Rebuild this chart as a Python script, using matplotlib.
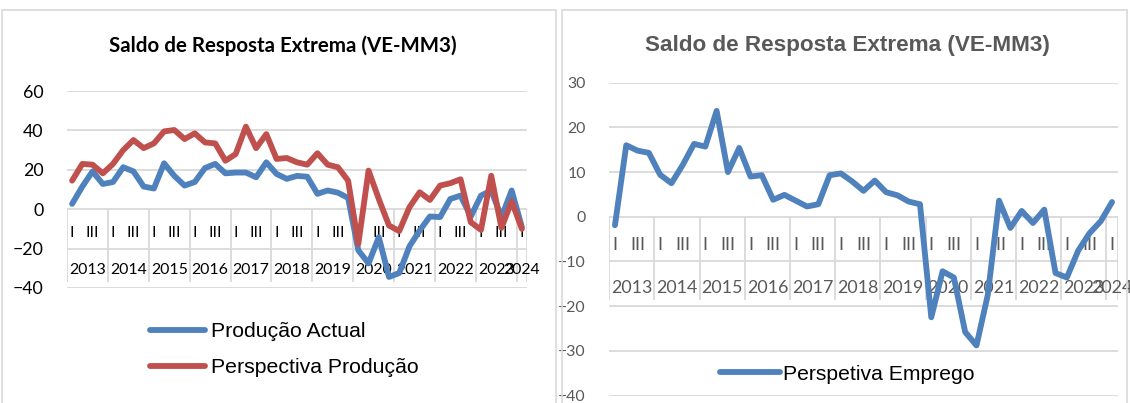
import matplotlib
matplotlib.use("Agg")
import matplotlib.pyplot as plt
from matplotlib.patches import Rectangle

# ---------------- data ----------------
years = [str(y) for y in range(2013, 2025)]
quarters = ["I", "II", "III", "IV"]
shown_quarters = ["I", "III"]          # Excel shows only every other label
n_points = 45                          # 2013 Q1 .. 2024 Q1

producao_actual = [2.7, 11.5, 19.2, 12.8, 13.8, 21.3, 19.2, 11.5, 10.5, 23.3,
                   16.9, 12.0, 13.8, 20.9, 23.0, 18.2, 18.6, 18.6, 16.2, 23.8,
                   17.9, 15.4, 16.9, 16.5, 7.8, 9.5, 8.4, 5.7, -20.9, -27.5,
                   -14.2, -34.4, -32.4, -18.9, -10.8, -3.7, -4.0, 5.2, 6.9, -3.7,
                   6.9, 9.5, -4.0, 9.5, -9.1]
perspectiva_producao = [14.5, 23.0, 22.6, 18.2, 23.0, 30.0, 35.1, 31.0, 33.4, 39.5,
                        40.2, 35.6, 38.5, 33.9, 33.4, 24.6, 28.0, 41.9, 31.0, 38.1,
                        25.5, 26.0, 23.8, 22.6, 28.4, 22.6, 21.3, 14.5, -17.6, 19.6,
                        5.2, -8.3, -11.1, 1.0, 8.6, 4.7, 12.0, 13.2, 15.2, -6.6,
                        -10.5, 17.0, -9.5, 4.0, -10.0]
perspetiva_emprego = [-1.9, 16.0, 14.8, 14.3, 9.4, 7.5, 11.6, 16.3, 15.7, 23.7,
                      10.0, 15.4, 9.0, 9.3, 3.8, 4.9, 3.6, 2.3, 2.8, 9.3,
                      9.7, 7.9, 5.8, 8.1, 5.5, 4.8, 3.4, 2.8, -22.5, -12.2,
                      -13.6, -25.8, -28.8, -17.5, 3.6, -2.5, 1.3, -1.4, 1.6, -12.6,
                      -13.6, -7.6, -3.7, -1.0, 3.3]

title = "Saldo de Resposta Extrema (VE-MM3)"
label_left = ["Produção Actual", "Perspectiva Produção"]
label_right = "Perspetiva Emprego"

# ---------------- style ----------------
BLUE = "#4F81BD"
RED = "#C0504D"
GRID = "#D9D9D9"
GRAYTXT = "#595959"
W, H = 1130, 403

fig = plt.figure(figsize=(W / 100, H / 100), dpi=100)
fig.patch.set_facecolor("white")


def fx(px):
    return px / W


def fy(py):
    return 1 - py / H


# panel borders
for (x0, y0, x1, y1) in [(2, 10, 556, 410), (562, 10, 1127, 410)]:
    fig.patches.append(Rectangle((fx(x0), fy(y1)), fx(x1) - fx(x0), fy(y0) - fy(y1),
                                 transform=fig.transFigure, fill=False,
                                 edgecolor=GRID, lw=1.2))

x = list(range(n_points))
q_labels = [quarters[i % 4] for i in x]
y_labels = [years[i // 4] for i in x]


def setup_axis(ax, ylim, step, txtcolor, ytick_size, q_y, yr_y, sep_bottom, lab_size):
    ax.set_xlim(-0.5, n_points - 0.5)
    ax.set_ylim(*ylim)
    ax.set_yticks(range(ylim[0], ylim[1] + 1, step))
    ax.grid(axis="y", color=GRID, lw=1.3, zorder=0)
    ax.set_axisbelow(True)
    for s in ax.spines.values():
        s.set_visible(False)
    ax.set_xticks([])
    ax.tick_params(axis="y", length=0, pad=17, labelsize=ytick_size, labelcolor=txtcolor)
    for lab in ax.get_yticklabels():
        lab.set_family("Lato")
    # year group separators in the label area
    bounds = [i - 0.5 for i in x if i % 4 == 0] + [n_points - 0.5]
    ax.vlines(bounds, sep_bottom, 0, color=GRID, lw=1.3, zorder=0)
    # quarter labels
    for i in x:
        if q_labels[i] in shown_quarters:
            ax.text(i, q_y, q_labels[i], ha="center", va="center", color=txtcolor,
                    fontsize=lab_size, family="Lato")
    # year labels centered in their group
    for yr in years:
        idx = [i for i in x if y_labels[i] == yr]
        ax.text((idx[0] + idx[-1]) / 2, yr_y, yr, ha="center", va="center",
                color=txtcolor, fontsize=lab_size, family="Lato")


LW = 4.2
# ---------- left chart ----------
axL = fig.add_axes([fx(67), fy(288), fx(527) - fx(67), fy(91) - fy(288)])
setup_axis(axL, (-40, 60), 20, "black", 12.8, -12.2, -30.9, -37, 11.4)
axL.plot(x, producao_actual, color=BLUE, lw=LW, solid_joinstyle="round",
         solid_capstyle="round", label=label_left[0], zorder=3)
axL.plot(x, perspectiva_producao, color=RED, lw=LW, solid_joinstyle="round",
         solid_capstyle="round", label=label_left[1], zorder=4)
legL = axL.legend(loc="upper left", bbox_to_anchor=(fx(150), fy(322)),
                  bbox_transform=fig.transFigure, frameon=False, borderpad=0,
                  borderaxespad=0, handlelength=2.6, handletextpad=0.25,
                  labelspacing=0.8, prop={"family": "Liberation Sans", "size": 15.3})
for h in legL.get_lines():
    h.set_linewidth(LW)

# ---------- right chart ----------
axR = fig.add_axes([fx(609.3), fy(395.5), fx(1117.7) - fx(609.3), fy(82.7) - fy(395.5)])
setup_axis(axR, (-40, 30), 10, GRAYTXT, 11.4, -6.3, -15.9, -18.6, 12.9)
axR.plot(x, perspetiva_emprego, color=BLUE, lw=LW, solid_joinstyle="round",
         solid_capstyle="round", label=label_right, zorder=3)
legR = axR.legend(loc="center left", bbox_to_anchor=(fx(720), fy(374)),
                  bbox_transform=fig.transFigure, frameon=False, borderpad=0,
                  borderaxespad=0, handlelength=2.85, handletextpad=0.15,
                  prop={"family": "Liberation Sans", "size": 15.2})
for h in legR.get_lines():
    h.set_linewidth(LW)

# ---------- titles ----------
tL = fig.text(fx(283), fy(46), title, ha="center", va="center", fontweight="bold",
              family="Lato", fontsize=14, color="black")
tR = fig.text(fx(847.5), fy(46), title, ha="center", va="center", fontweight="bold",
              family="Liberation Sans", fontsize=14, color=GRAYTXT)

renderer = fig.canvas.get_renderer()
for t, target in [(tL, 350), (tR, 405)]:
    w = t.get_window_extent(renderer).width
    t.set_fontsize(t.get_fontsize() * target / w)

fig.savefig("out.png", dpi=100)
